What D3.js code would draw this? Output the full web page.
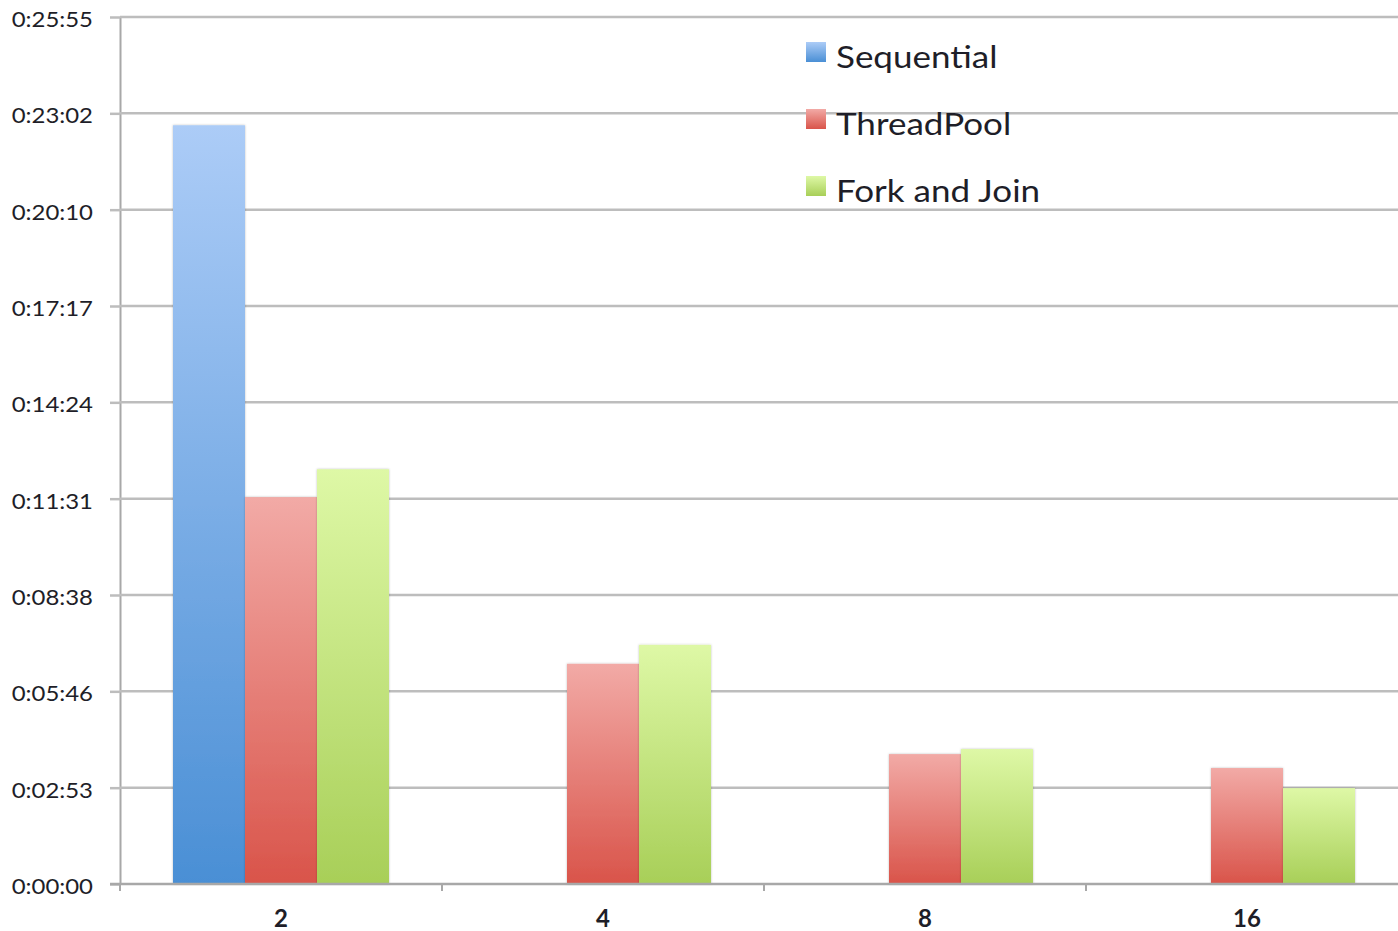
<!DOCTYPE html>
<html>
<head>
<meta charset="utf-8">
<script src="https://cdn.jsdelivr.net/npm/d3@7"></script>
<style>
  html, body { margin: 0; padding: 0; background: #fff; overflow: hidden; }
  svg { display: block; }
</style>
</head>
<body>
<svg id="chart" width="1398" height="931"></svg>
<script>
// ---- data (times in seconds) ----
const categories = ["2", "4", "8", "16"];
const seriesNames = ["Sequential", "ThreadPool", "Fork and Join"];
const sequential = [1361, 0, 0, 0];
const threadPool = [694, 395, 233, 208];
const forkJoin   = [744, 429, 242, 172];
const tickLabels = ["0:00:00","0:02:53","0:05:46","0:08:38","0:11:31","0:14:24","0:17:17","0:20:10","0:23:02","0:25:55"];
const tickStep = 172.8; // seconds between gridlines (0.002 day)

const seriesValues = [sequential, threadPool, forkJoin];
const colors = [
  { top: "#acccf7", bottom: "#4a8fd5" },
  { top: "#f2aaa6", bottom: "#d9544a" },
  { top: "#def8a6", bottom: "#a8cf58" }
];
const FONT = "Lato, 'Open Sans', sans-serif";
const STRETCH = 1.14; // horizontal stretch of the original's text

const svg = d3.select("#chart");
const margin = { left: 120, top: 17, bottom: 884, right: 1408 };

const y = d3.scaleLinear().domain([0, tickStep * 9]).range([margin.bottom, margin.top]);
const x0 = d3.scaleBand().domain(categories).range([margin.left, margin.right]).paddingInner(0).paddingOuter(0);
const groupWidth = 216;
const x1 = d3.scaleBand().domain(seriesNames).range([0, groupWidth]).padding(0);

// gradients
const defs = svg.append("defs");
colors.forEach((c, i) => {
  const g = defs.append("linearGradient").attr("id", "grad" + i)
    .attr("x1", 0).attr("y1", 0).attr("x2", 0).attr("y2", 1);
  g.append("stop").attr("offset", "0%").attr("stop-color", c.top);
  g.append("stop").attr("offset", "100%").attr("stop-color", c.bottom);
});
const shadow = defs.append("filter").attr("id", "shadow").attr("x", "-20%").attr("y", "-5%").attr("width", "140%").attr("height", "110%");
shadow.append("feDropShadow").attr("dx", 0).attr("dy", 0).attr("stdDeviation", 1.2).attr("flood-color", "#000").attr("flood-opacity", 0.25);

const tickValues = tickLabels.map((d, i) => i * tickStep);

// y axis
const yAxis = d3.axisLeft(y).tickValues(tickValues)
  .tickFormat((d, i) => tickLabels[i])
  .tickSize(10).tickSizeOuter(0).tickPadding(17);
const yg = svg.append("g").attr("transform", `translate(${margin.left},0)`).call(yAxis);
yg.select(".domain").attr("stroke", "#a8a8a8").attr("stroke-width", 2);
yg.selectAll(".tick line").attr("stroke", "#bdbdbd").attr("stroke-width", 2.5);
yg.selectAll(".tick text")
  .attr("font-family", FONT)
  .attr("font-size", 21)
  .attr("fill", "#1e1e28")
  .attr("dy", "0.45em")
  .attr("x", -27 / STRETCH)
  .attr("transform", `scale(${STRETCH},1)`);

// gridlines
svg.append("g").selectAll("line").data(tickValues.slice(1)).join("line")
  .attr("x1", margin.left).attr("x2", 1398)
  .attr("y1", d => y(d)).attr("y2", d => y(d))
  .attr("stroke", "#bdbdbd").attr("stroke-width", 2.5);

// bars
const groups = svg.append("g").selectAll("g").data(categories).join("g")
  .attr("transform", d => `translate(${x0(d) + (x0.bandwidth() - groupWidth) / 2},0)`);
groups.selectAll("rect")
  .data((d, ci) => seriesNames.map((s, si) => ({ s, si, v: seriesValues[si][ci] })).filter(e => e.v > 0))
  .join("rect")
  .attr("x", d => x1(d.s))
  .attr("width", x1.bandwidth())
  .attr("y", d => y(d.v))
  .attr("height", d => y(0) - y(d.v))
  .attr("fill", d => `url(#grad${d.si})`)
  .attr("filter", "url(#shadow)");

// x axis
const xAxis = d3.axisBottom(x0).tickSize(0).tickPadding(26);
const xg = svg.append("g").attr("transform", `translate(0,${margin.bottom})`).call(xAxis);
xg.select(".domain").remove();
xg.selectAll(".tick text")
  .attr("font-family", FONT)
  .attr("font-size", 24)
  .attr("font-weight", "bold")
  .attr("fill", "#1e1e28");
svg.append("line").attr("x1", margin.left - 10).attr("x2", 1398)
  .attr("y1", margin.bottom).attr("y2", margin.bottom)
  .attr("stroke", "#a8a8a8").attr("stroke-width", 2.5);
// category boundary ticks
svg.append("g").selectAll("line").data(categories).join("line")
  .attr("x1", d => x0(d)).attr("x2", d => x0(d))
  .attr("y1", margin.bottom).attr("y2", margin.bottom + 7)
  .attr("stroke", "#a8a8a8").attr("stroke-width", 2);

// legend
const legend = svg.append("g").attr("transform", "translate(806,42)");
const li = legend.selectAll("g").data(seriesNames).join("g")
  .attr("transform", (d, i) => `translate(0,${i * 67})`);
li.append("rect").attr("width", 20).attr("height", 20)
  .attr("fill", (d, i) => `url(#grad${i})`);
li.append("text").attr("x", 30 / 1.13).attr("y", 26)
  .attr("transform", "scale(1.13,1)")
  .attr("font-family", FONT)
  .attr("font-size", 31)
  .attr("fill", "#1e1e28")
  .text(d => d);
</script>
</body>
</html>
